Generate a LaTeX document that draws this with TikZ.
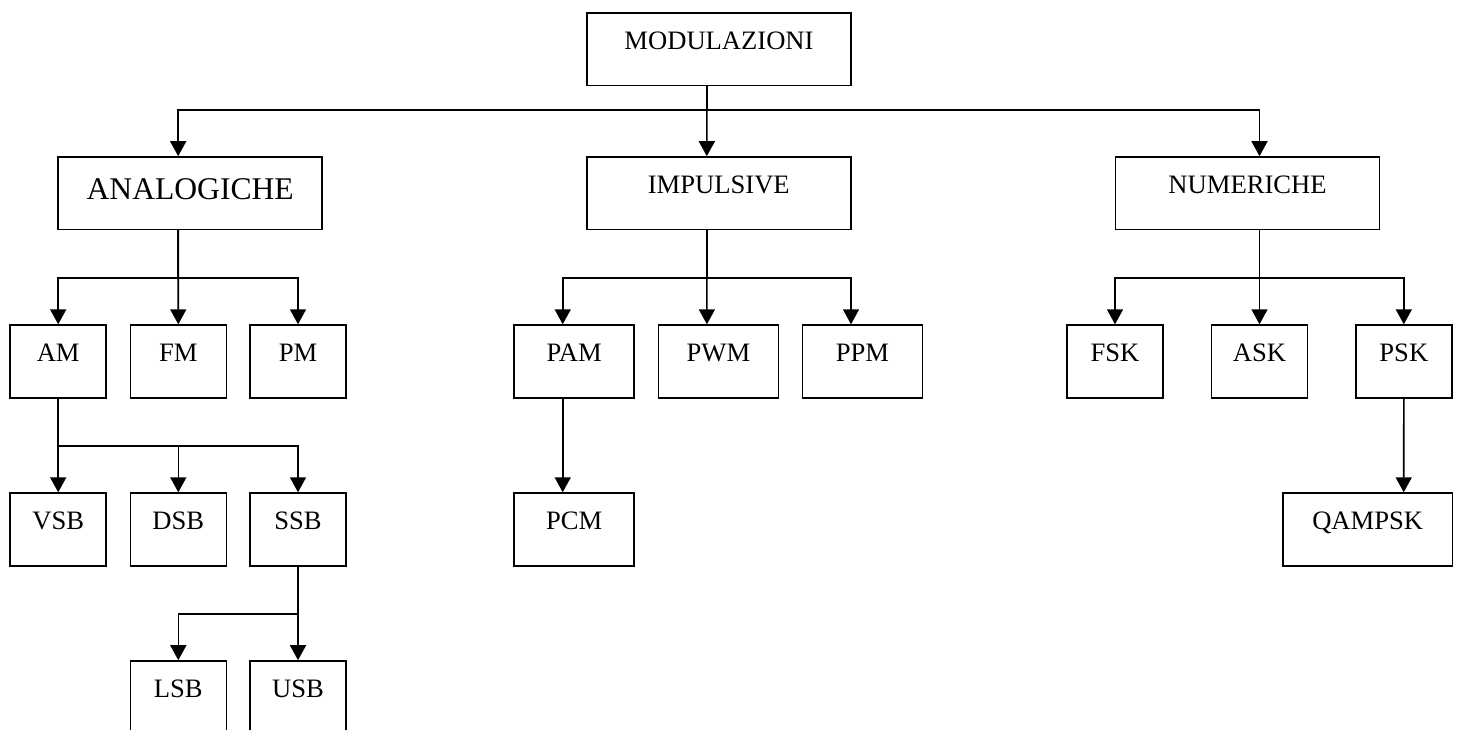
\documentclass[tikz,border=0pt]{standalone}
\usepackage{fontspec}
\setmainfont{Liberation Serif}
\usetikzlibrary{arrows.meta,positioning,calc}

\begin{document}
\begin{tikzpicture}[x=0.5pt,y=-0.5pt,
		box/.style={thick, rectangle, draw, line width=0.8pt, minimum height=36.3pt, inner sep=0pt,
			font=\fontsize{13.3}{16}\selectfont, text height=9pt, text depth=9pt},
		wide/.style={box, minimum width=132pt},
		small/.style={box, minimum width=48pt},
		mid/.style={box, minimum width=60pt},
		arr/.style={line width=0.8pt, -{Triangle[length=7.5pt,width=8pt]}}]
						
						\useasboundingbox (0,0) rectangle (1459,729);
						
						\node[wide] (mod) at (719,49.3) {MODULAZIONI};
						
						\node[wide, font=\fontsize{15.8}{19}\selectfont, text height=12pt, text depth=6pt] (ana) at (190.2,193.3) {ANALOGICHE};
						\node[wide] (imp) at (718.8,193.3) {IMPULSIVE};
						\node[wide] (num) at (1247.5,193.3) {NUMERICHE};
						
						\node[small] (am) at (58.2,361.4) {AM};
						\node[small] (fm) at (178.3,361.4) {FM};
						\node[small] (pm) at (298,361.4) {PM};
						\node[mid] (pam) at (574.2,361.4) {PAM};
						\node[mid] (pwm) at (718.4,361.4) {PWM};
						\node[mid] (ppm) at (862.5,361.4) {PPM};
						\node[small] (fsk) at (1115,361.4) {FSK};
						\node[small] (ask) at (1259.5,361.4) {ASK};
						\node[small] (psk) at (1403.8,361.4) {PSK};
						
						\node[small] (vsb) at (58.2,529.4) {VSB};
						\node[small] (dsb) at (178.3,529.4) {DSB};
						\node[small] (ssb) at (298,529.4) {SSB};
						\node[mid] (pcm) at (574.2,529.4) {PCM};
						\node[box, minimum width=84.75pt] (qam) at (1367.7,529.4) {QAMPSK};
						
						\node[small] (lsb) at (178.3,697.3) {LSB};
						\node[small] (usb) at (298,697.3) {USB};
						
						% Arrows
						\draw[arr] ($(mod.south)+(-12,0)$) -- ++(0,23.7) -| ($(ana.north)+(-12,0)$);
						\draw[arr] ($(mod.south)+(-12,0)$) -- ($(imp.north)+(-12,0)$);
						\draw[arr] ($(mod.south)+(-12,0)$) -- ++(0,23.7) -| ($(num.north)+(12,0)$);
						
						\draw[arr] ($(ana.south)+(-12,0)$) -- ++(0,47.7) -| (am.north);
						\draw[arr] ($(ana.south)+(-12,0)$) -- (fm.north);
						\draw[arr] ($(ana.south)+(-12,0)$) -- ++(0,47.7) -| (pm.north);
						
						\draw[arr] ($(imp.south)+(-12,0)$) -- ++(0,47.7) -| ($(pam.north)+(-11.5,0)$);
						\draw[arr] ($(imp.south)+(-12,0)$) -- ($(pwm.north)+(-11.5,0)$);
						\draw[arr] ($(imp.south)+(-12,0)$) -- ++(0,47.7) -| ($(ppm.north)+(-11.5,0)$);
						
						\draw[arr] ($(num.south)+(12,0)$) -- ++(0,47.7) -| (fsk.north);
						\draw[arr] ($(num.south)+(12,0)$) -- (ask.north);
						\draw[arr] ($(num.south)+(12,0)$) -- ++(0,47.7) -| (psk.north);
						
						\draw[arr] (am.south) -- ++(0,47.3) -| (vsb.north);
						\draw[arr] (am.south) -- ++(0,47.3) -| (dsb.north);
						\draw[arr] (am.south) -- ++(0,47.3) -| (ssb.north);
						
						\draw[arr] ($(pam.south)+(-11.5,0)$) -- ($(pcm.north)+(-11.5,0)$);
						\draw[arr] (psk.south) -- ($(qam.north)+(36,0)$);
						
						\draw[arr] (ssb.south) -- ++(0,47.6) -| (lsb.north);
						\draw[arr] (ssb.south) -- ++(0,47.6) -| (usb.north);
						
					\end{tikzpicture}
\end{document}
